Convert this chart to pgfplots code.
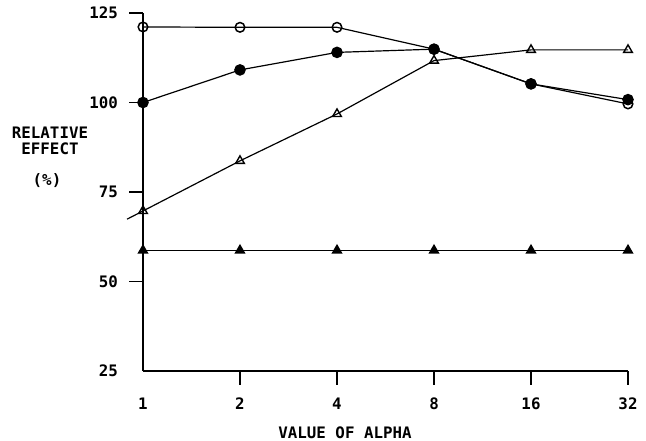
\documentclass[border=0pt]{standalone}
\usepackage{pgfplots}
\pgfplotsset{compat=1.18}
\usepackage{fontspec}
\setmainfont{DejaVu Sans Mono}
\begin{document}
\begin{tikzpicture}
\begin{axis}[
  scale only axis, width=485bp, height=358bp,
  xmode=log, log basis x=2, xmin=1, xmax=32, ymin=25, ymax=125,
  axis lines=left, axis line style={-, line width=1.4pt},
  xtick={2,4,8,16,32}, xticklabels={2,4,8,16,32},
  ytick={50,75,100,125}, yticklabels={50,75,100,125},
  extra x ticks={1}, extra x tick labels={1},
  extra y ticks={25}, extra y tick labels={25},
  extra tick style={major tick style={draw=none}},
  tick align=outside, major tick length=14bp,
  tick style={line width=1.4pt, black},
  yticklabel style={inner sep=0pt, xshift=-11bp},
  xticklabel style={inner sep=0pt, yshift=-13bp},
  font=\fontsize{15.8bp}{18bp}\selectfont\bfseries,
  clip=false,
]
% left extension of open-triangle line
\addplot[black, line width=1.2pt, mark=none] coordinates {(0.892,67.4) (1,69.7)};
% open triangles
\addplot[black, line width=1.2pt, mark=triangle, mark size=5bp, mark options={line width=1.4pt, fill=white}]
  coordinates {(1,69.7) (2,83.7) (4,96.8) (8,111.7) (16,114.7) (32,114.7)};
% filled triangles
\addplot[black, line width=1.2pt, mark=triangle*, mark size=5.2bp, mark options={fill=black}]
  coordinates {(1,58.7) (2,58.7) (4,58.7) (8,58.7) (16,58.7) (32,58.7)};
% open circles
\addplot[black, line width=1.2pt, mark=o, mark size=4.8bp, mark options={line width=1.5pt, fill=white}]
  coordinates {(1,121.1) (2,121.0) (4,121.0) (8,114.9) (16,105.2) (32,99.6)};
% filled circles
\addplot[black, line width=1.2pt, mark=*, mark size=5.2bp, mark options={fill=black}]
  coordinates {(1,100) (2,109.1) (4,114.0) (8,114.9) (16,105.2) (32,100.8)};
\node[font=\fontsize{15.8bp}{18bp}\selectfont\bfseries] at (axis cs:1,91.5) [xshift=-93bp] {RELATIVE};
\node[font=\fontsize{15.8bp}{18bp}\selectfont\bfseries] at (axis cs:1,87.0) [xshift=-93bp] {EFFECT};
\node[font=\fontsize{15.8bp}{18bp}\selectfont\bfseries] at (axis cs:1,78.3) [xshift=-96bp] {(\%)};
\node[font=\fontsize{15.8bp}{18bp}\selectfont\bfseries] at (rel axis cs:0.4165,0) [yshift=-62bp] {VALUE OF ALPHA};
\end{axis}
\pgfresetboundingbox
\path[use as bounding box] ([xshift=-143bp,yshift=-70bp]current axis.south west) rectangle ([xshift=18bp,yshift=13bp]current axis.north east);
\end{tikzpicture}
\end{document}
